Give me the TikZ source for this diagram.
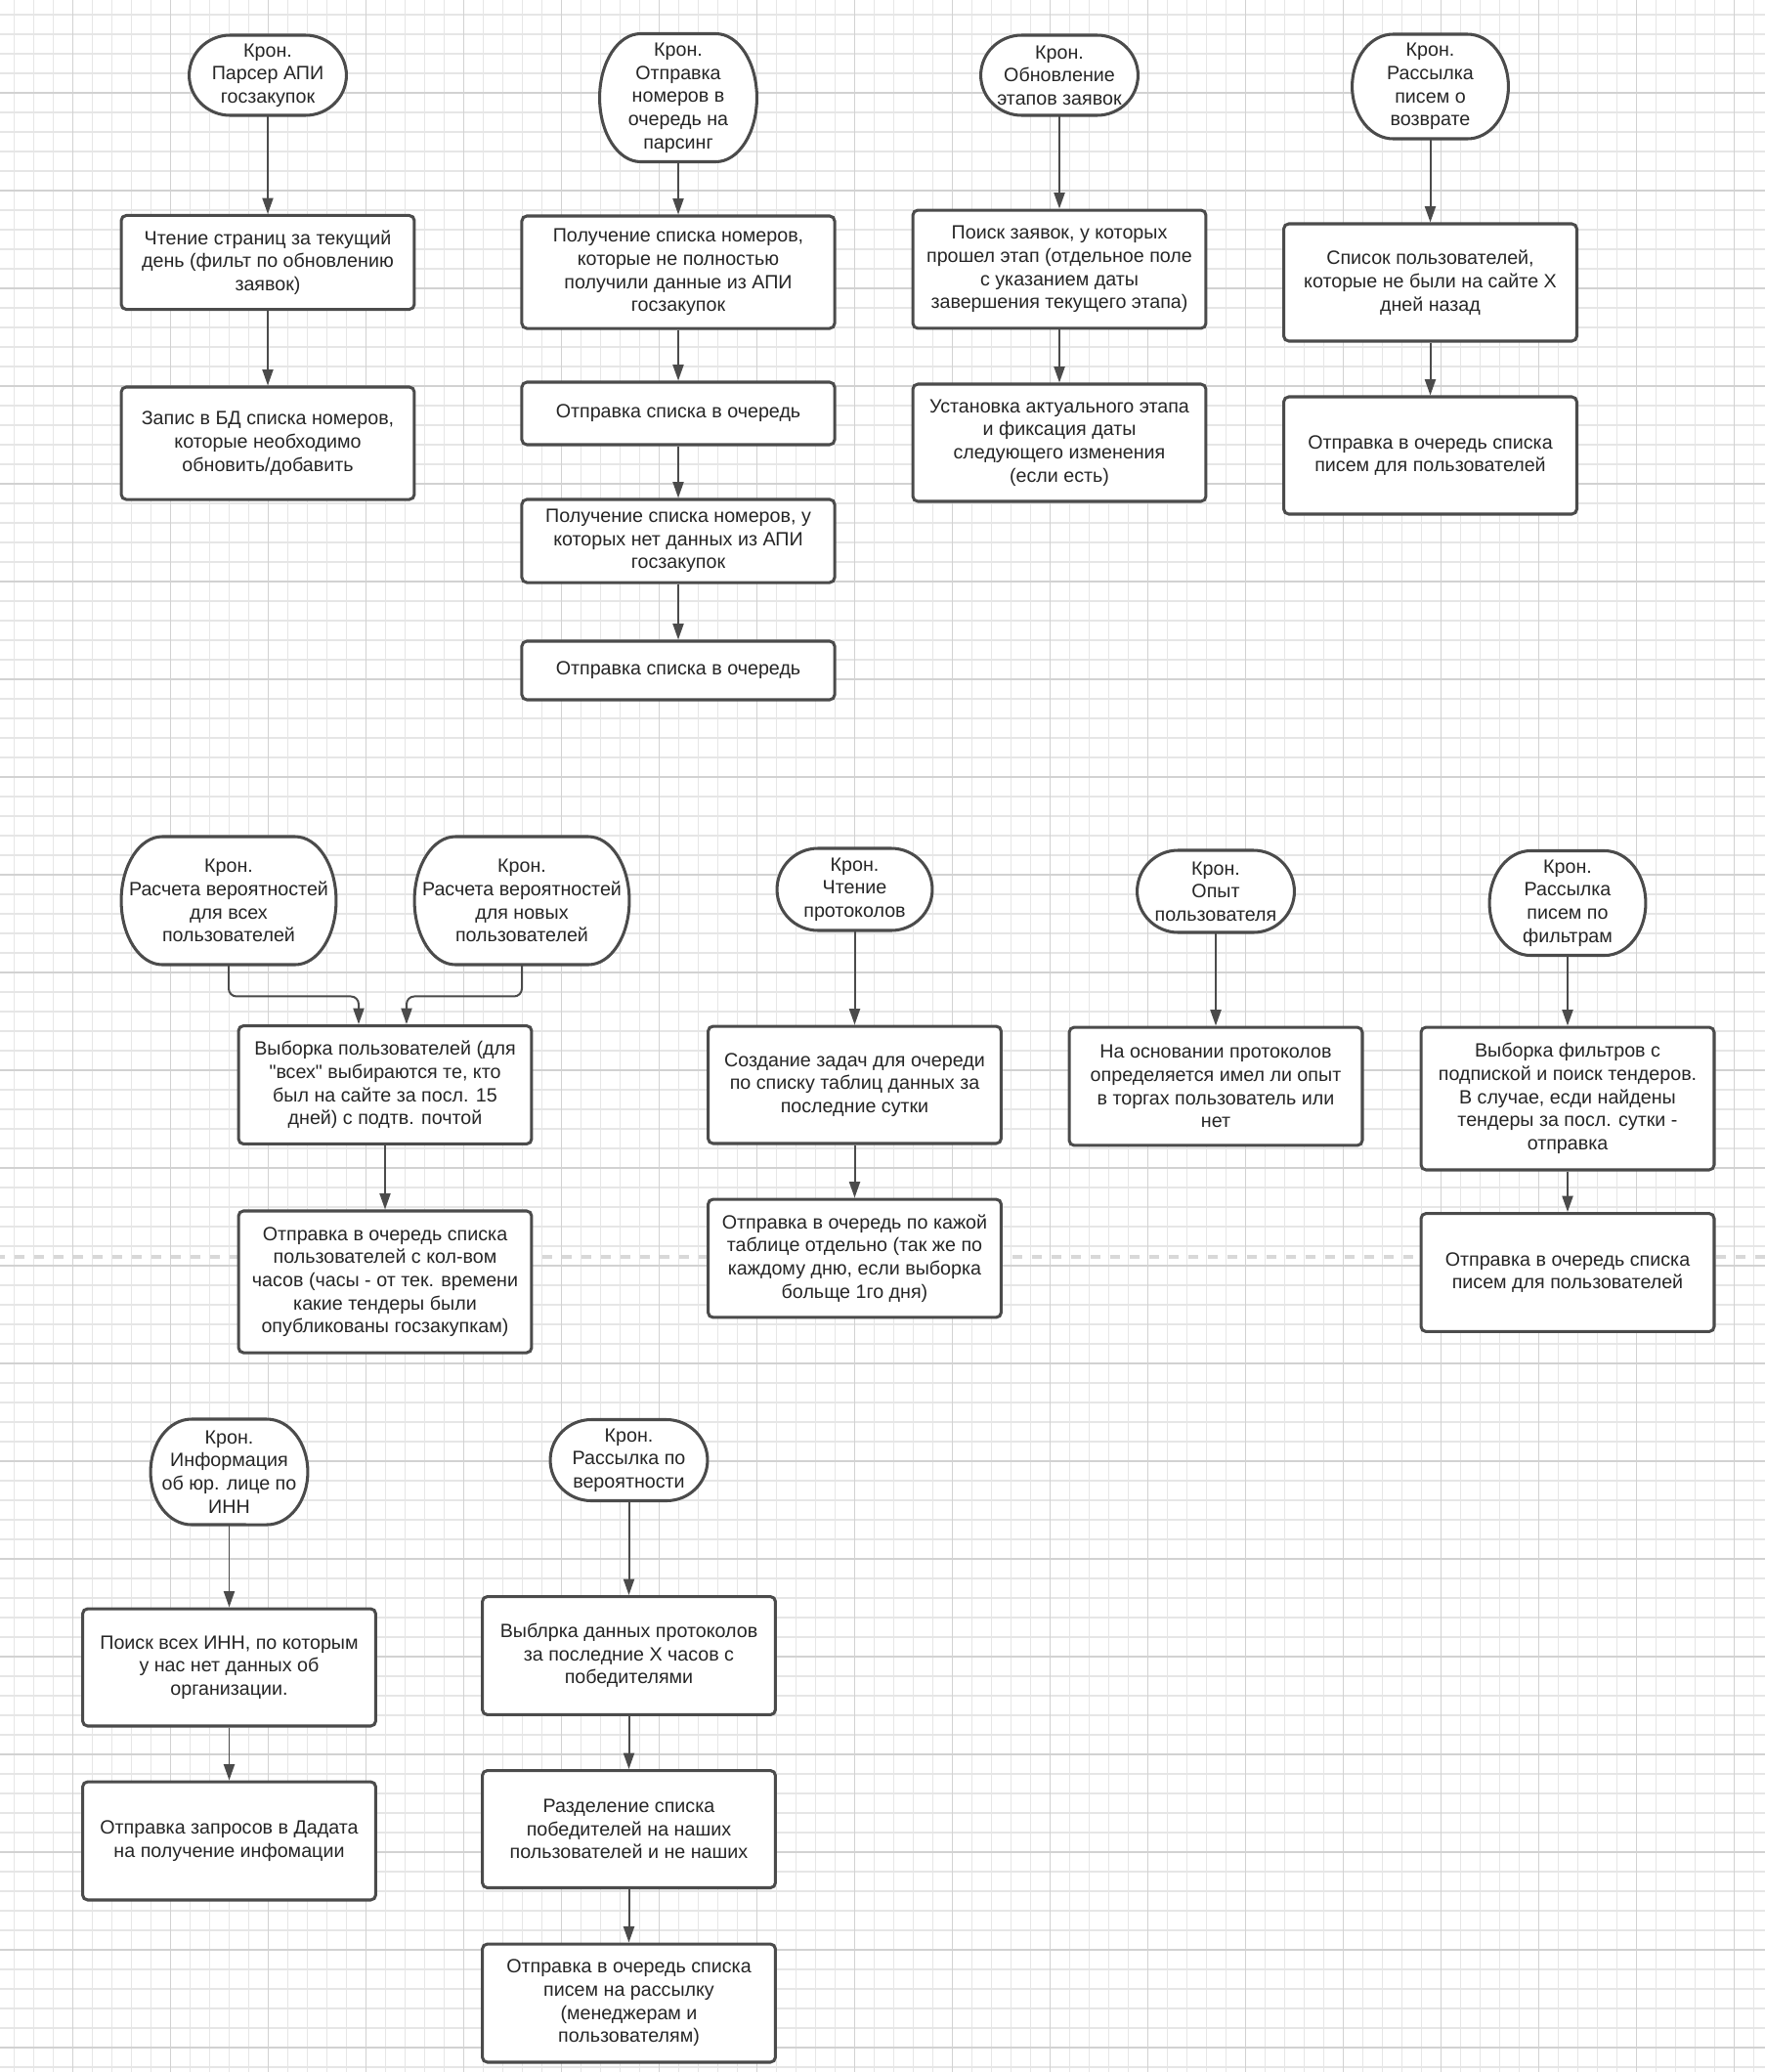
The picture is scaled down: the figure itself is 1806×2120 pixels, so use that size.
\documentclass[tikz,border=0pt]{standalone}
\usepackage{fontspec}
\setmainfont{Liberation Sans}[Ligatures=TeXOff]
\usepackage{xcolor}
\usetikzlibrary{arrows.meta, calc}

\definecolor{linegray}{HTML}{4B4B4B}
\definecolor{textgray}{HTML}{262626}
\definecolor{gridminor}{HTML}{E6E6E6}
\definecolor{gridmajor}{HTML}{D2D2D2}
\definecolor{dividergray}{HTML}{D8D8D8}

% cron terminator: x, y, width, height (px), name, text
\newcommand{\cronnode}[6]{%
  \filldraw[fill=white, draw=linegray, line width=1.3pt]
    ({#1-#3/2+42},{#2-#4/2}) -- ({#1+#3/2-42},{#2-#4/2})
    arc[start angle=90, end angle=-90, x radius=17.9pt, y radius={#4*0.2134pt}]
    -- ({#1-#3/2+42},{#2+#4/2})
    arc[start angle=270, end angle=90, x radius=17.9pt, y radius={#4*0.2134pt}] -- cycle;
  \node[cronlabel, minimum width={#3*0.4268pt}, minimum height={#4*0.4268pt}] (#5) at (#1,#2) {#6};}

\begin{document}
\begin{tikzpicture}[x=0.015cm, y=-0.015cm,
    cronlabel/.style={align=center, inner sep=0pt, text=textgray, font=\fontsize{8.4}{10.1}\selectfont},
    proc/.style={draw=linegray, line width=1.3pt, fill=white, rounded corners=2.2pt, align=center, inner sep=0pt, minimum width=128pt, text=textgray, font=\fontsize{8.4}{10.1}\selectfont},
    flow/.style={draw=linegray, line width=0.85pt, -{Triangle[length=7pt, width=4.7pt]}}]
    \useasboundingbox (0,0) rectangle (1806,2120);
    \fill[white] (0,0) rectangle (1806,2120);

    % Paper grid
    \foreach \gx in {14.5,34.5,...,1794.5} \draw[gridminor, line width=0.45pt] (\gx,0) -- (\gx,2120);
    \foreach \gy in {15,35,...,2115} \draw[gridminor, line width=0.45pt] (0,\gy) -- (1806,\gy);
    \foreach \gx in {74.5,174.5,...,1774.5} \draw[gridmajor, line width=0.45pt] (\gx,0) -- (\gx,2120);
    \foreach \gy in {95,195,...,2095} \draw[gridmajor, line width=0.45pt] (0,\gy) -- (1806,\gy);
    \draw[dividergray, line width=1.3pt, dash pattern=on 4.27pt off 4.27pt, dash phase=2.13pt] (0,1286) -- (1806,1286);

    % Parser
    \cronnode{274}{77}{161}{82}{cron1}{Крон.\\Парсер АПИ\\госзакупок}
    \node[proc, minimum height=41pt] (proc1a) at (274,268.5) {Чтение страниц за текущий\\день (фильт по обновлению\\заявок)};
    \node[proc, minimum height=49.1pt] (proc1b) at (274,453.5) {Запис в БД списка номеров,\\которые необходимо\\обновить/добавить};
    \draw[flow] (cron1.south) -- (proc1a.north);
    \draw[flow] (proc1a.south) -- (proc1b.north);

    % Numbers to parsing queue
    \cronnode{694}{100}{161}{131}{cron2}{Крон.\\Отправка\\номеров в\\очередь на\\парсинг}
    \node[proc, minimum width=136.6pt, minimum height=49.1pt] (proc2a) at (694,278.5) {Получение списка номеров,\\которые не полностью\\получили данные из АПИ\\госзакупок};
    \node[proc, minimum width=136.6pt, minimum height=27.3pt] (proc2b) at (694,423) {Отправка списка в очередь};
    \node[proc, minimum width=136.6pt, minimum height=36.3pt] (proc2c) at (694,553.5) {Получение списка номеров, у\\которых нет данных из АПИ\\госзакупок};
    \node[proc, minimum width=136.6pt, minimum height=25.6pt] (proc2d) at (694,686) {Отправка списка в очередь};
    \draw[flow] (cron2.south) -- (proc2a.north);
    \draw[flow] (proc2a.south) -- (proc2b.north);
    \draw[flow] (proc2b.south) -- (proc2c.north);
    \draw[flow] (proc2c.south) -- (proc2d.north);

    % Stage update
    \cronnode{1084}{77}{161}{82}{cron3}{Крон.\\Обновление\\этапов заявок}
    \node[proc, minimum height=51.6pt] (proc3a) at (1084,275.5) {Поиск заявок, у которых\\прошел этап (отдельное поле\\с указанием даты\\завершения текущего этапа)};
    \node[proc, minimum height=51.2pt] (proc3b) at (1084,453) {Установка актуального этапа\\и фиксация даты\\следующего изменения\\(если есть)};
    \draw[flow] (cron3.south) -- (proc3a.north);
    \draw[flow] (proc3a.south) -- (proc3b.north);

    % Return mailing
    \cronnode{1463.5}{88.5}{160}{107}{cron4}{Крон.\\Рассылка\\писем о\\возврате}
    \node[proc, minimum height=51.2pt] (proc4a) at (1463.5,289) {Список пользователей,\\которые не были на сайте X\\дней назад};
    \node[proc, minimum height=51.2pt] (proc4b) at (1463.5,466) {Отправка в очередь списка\\писем для пользователей};
    \draw[flow] (cron4.south) -- (proc4a.north);
    \draw[flow] (proc4a.south) -- (proc4b.north);

    % Probabilities
    \cronnode{234}{921.5}{220}{131}{cron5}{Крон.\\Расчета вероятностей\\для всех\\пользователей}
    \cronnode{534}{921.5}{220}{131}{cron6}{Крон.\\Расчета вероятностей\\для новых\\пользователей}
    \node[proc, minimum height=51.6pt] (proc5a) at (394,1110) {Выборка пользователей (для\\"всех" выбираются те, кто\\был на сайте за посл. 15\\дней) с подтв. почтой};
    \node[proc, minimum height=61.9pt] (proc5b) at (394,1311.5) {Отправка в очередь списка\\пользователей с кол-вом\\часов (часы - от тек. времени\\какие тендеры были\\опубликованы госзакупкам)};
    \draw[flow, rounded corners=3.4pt] (cron5.south) -- ++(0,32) -| ($(proc5a.north)+(-27,0)$);
    \draw[flow, rounded corners=3.4pt] (cron6.south) -- ++(0,32) -| ($(proc5a.north)+(22,0)$);
    \draw[flow] (proc5a.south) -- (proc5b.north);

    % Protocols
    \cronnode{874.5}{910}{159}{84}{cron7}{Крон.\\Чтение\\протоколов}
    \node[proc, minimum height=51.2pt] (proc7a) at (874.5,1110) {Создание задач для очереди\\по списку таблиц данных за\\последние сутки};
    \node[proc, minimum height=51.6pt] (proc7b) at (874.5,1287.5) {Отправка в очередь по кажой\\таблице отдельно (так же по\\каждому дню, если выборка\\больще 1го дня)};
    \draw[flow] (cron7.south) -- (proc7a.north);
    \draw[flow] (proc7a.south) -- (proc7b.north);

    % User experience
    \cronnode{1244}{912}{161}{84}{cron8}{Крон.\\Опыт\\пользователя}
    \node[proc, minimum height=51.6pt] (proc8a) at (1244,1111.5) {На основании протоколов\\определяется имел ли опыт\\в торгах пользователь или\\нет};
    \draw[flow] (cron8.south) -- (proc8a.north);

    % Filter mailing
    \cronnode{1604}{924}{160}{107}{cron9}{Крон.\\Рассылка\\писем по\\фильтрам}
    \node[proc, minimum height=62.3pt] (proc9a) at (1604,1124) {Выборка фильтров с\\подпиской и поиск тендеров.\\В случае, есди найдены\\тендеры за посл. сутки -\\отправка};
    \node[proc, minimum height=51.6pt] (proc9b) at (1604,1302) {Отправка в очередь списка\\писем для пользователей};
    \draw[flow] (cron9.south) -- (proc9a.north);
    \draw[flow] (proc9a.south) -- (proc9b.north);

    % Legal entity info
    \cronnode{234.5}{1506}{161}{108}{cron10}{Крон.\\Информация\\об юр. лице по\\ИНН}
    \node[proc, minimum height=51.2pt] (proc10a) at (234.5,1706) {Поиск всех ИНН, по которым\\у нас нет данных об\\организации.};
    \node[proc, minimum height=51.6pt] (proc10b) at (234.5,1883.5) {Отправка запросов в Дадата\\на получение инфомации};
    \draw[flow] (cron10.south) -- (proc10a.north);
    \draw[flow] (proc10a.south) -- (proc10b.north);

    % Probability mailing
    \cronnode{643.5}{1494}{161}{83}{cron11}{Крон.\\Рассылка по\\вероятности}
    \node[proc, minimum height=51.6pt] (proc11a) at (643.5,1694) {Выблрка данных протоколов\\за последние X часов с\\победителями};
    \node[proc, minimum height=51.2pt] (proc11b) at (643.5,1871.5) {Разделение списка\\победителей на наших\\пользователей и не наших};
    \node[proc, minimum height=51.6pt] (proc11c) at (643.5,2049.5) {Отправка в очередь списка\\писем на рассылку\\(менеджерам и\\пользователям)};
    \draw[flow] (cron11.south) -- (proc11a.north);
    \draw[flow] (proc11a.south) -- (proc11b.north);
    \draw[flow] (proc11b.south) -- (proc11c.north);
\end{tikzpicture}
\end{document}
